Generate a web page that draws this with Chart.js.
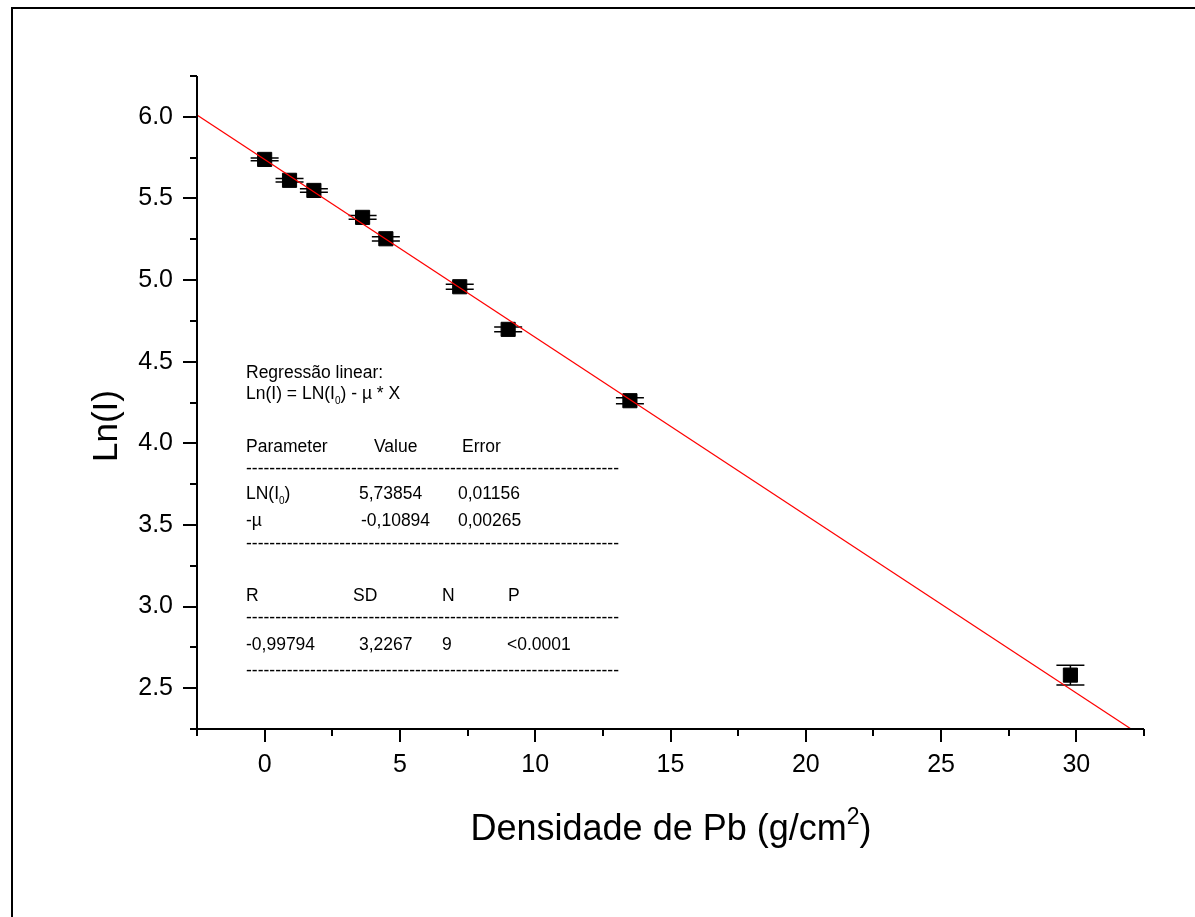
<!DOCTYPE html>
<html><head><meta charset="utf-8">
<script src="https://cdn.jsdelivr.net/npm/chart.js@4/dist/chart.umd.min.js"></script>
<style>html,body{margin:0;padding:0;background:#fff;overflow:hidden}#wrap{width:1195px;height:917px;position:relative}canvas{display:block}</style>
</head><body><div id="wrap"><canvas id="c" width="1195" height="917"></canvas></div>
<script>
// ---- data ----
const densidade = [0, 0.92, 1.82, 3.62, 4.48, 7.21, 9.0, 13.5, 29.78];
const lnI       = [5.739, 5.611, 5.549, 5.384, 5.253, 4.959, 4.698, 4.261, 2.58];
const lnIErr    = [0.008, 0.011, 0.011, 0.011, 0.013, 0.015, 0.014, 0.018, 0.061];
const fitX = [-2.5, 32.5];
const fitY = [6.011, 2.198];
const xTickValues = [0, 5, 10, 15, 20, 25, 30];
const xTickLabels = ['0', '5', '10', '15', '20', '25', '30'];
const yTickValues = [2.5, 3.0, 3.5, 4.0, 4.5, 5.0, 5.5, 6.0];
const yTickLabels = ['2.5', '3.0', '3.5', '4.0', '4.5', '5.0', '5.5', '6.0'];
const xTitle = 'Densidade de Pb (g/cm';
const xTitleSup = '2';
const yTitle = 'Ln(I)';
const dashes = '-'.repeat(64);
// annotation rows: [parts, x, baselineY]
const noteRows = [
  [['Regressão linear:'], 246, 378],
  [['Ln(I) = LN(I', {sub:'0'}, ') - \u00b5 * X'], 246, 399],
  [['Parameter'], 246, 452], [['Value'], 374, 452], [['Error'], 462, 452],
  [[dashes], 246, 474],
  [['LN(I', {sub:'0'}, ')'], 246, 499], [['5,73854'], 359, 499], [['0,01156'], 458, 499],
  [['-\u00b5'], 246, 526], [['-0,10894'], 361, 526], [['0,00265'], 458, 526],
  [[dashes], 246, 549],
  [['R'], 246, 601], [['SD'], 353, 601], [['N'], 442, 601], [['P'], 508, 601],
  [[dashes], 246, 623],
  [['-0,99794'], 246, 650], [['3,2267'], 359, 650], [['9'], 442, 650], [['<0.0001'], 507, 650],
  [[dashes], 246, 676]
];

const FONT = '"Liberation Sans", Arial, Helvetica, sans-serif';

function near(v, arr){ return arr.findIndex(a => Math.abs(a - v) < 1e-6); }

const decor = {
  id: 'decor',
  beforeDatasetsDraw(chart) {
    const ctx = chart.ctx, xs = chart.scales.x, ys = chart.scales.y;
    ctx.save();
    ctx.strokeStyle = '#000'; ctx.lineWidth = 1.5;
    for (let i = 0; i < densidade.length; i++) {
      const px = xs.getPixelForValue(densidade[i]);
      const top = ys.getPixelForValue(lnI[i] + lnIErr[i]);
      const bot = ys.getPixelForValue(lnI[i] - lnIErr[i]);
      ctx.beginPath();
      ctx.moveTo(px, top); ctx.lineTo(px, bot);
      ctx.moveTo(px - 14, top); ctx.lineTo(px + 14, top);
      ctx.moveTo(px - 14, bot); ctx.lineTo(px + 14, bot);
      ctx.stroke();
    }
    ctx.restore();
  },
  afterDraw(chart) {
    const ctx = chart.ctx, xs = chart.scales.x, ys = chart.scales.y, a = chart.chartArea;
    ctx.save();
    ctx.strokeStyle = '#000'; ctx.lineWidth = 2;
    ctx.strokeRect(12, 8, 2000, 2000);
    ctx.beginPath();
    ctx.moveTo(a.left, a.top); ctx.lineTo(a.left, a.bottom); ctx.lineTo(a.right, a.bottom);
    ctx.stroke();
    ctx.beginPath();
    for (let v = -2.5; v <= 32.5 + 1e-9; v += 2.5) {
      const p = Math.round(xs.getPixelForValue(v));
      const major = near(v, xTickValues) >= 0;
      ctx.moveTo(p, a.bottom); ctx.lineTo(p, a.bottom + (major ? 13 : 7));
    }
    for (let v = 2.25; v <= 6.25 + 1e-9; v += 0.25) {
      const p = Math.round(ys.getPixelForValue(v));
      const major = near(v, yTickValues) >= 0;
      ctx.moveTo(a.left, p); ctx.lineTo(a.left - (major ? 14 : 7), p);
    }
    ctx.stroke();
    ctx.fillStyle = '#000';
    ctx.textBaseline = 'alphabetic';
    ctx.save();
    ctx.font = '35px ' + FONT;
    ctx.translate(117, 426); ctx.rotate(-Math.PI / 2);
    ctx.textAlign = 'center';
    ctx.fillText(yTitle, 0, 0);
    ctx.restore();
    ctx.textAlign = 'left';
    ctx.font = '36px ' + FONT;
    const w1 = ctx.measureText(xTitle).width;
    ctx.font = '23px ' + FONT;
    const w2 = ctx.measureText(xTitleSup).width;
    ctx.font = '36px ' + FONT;
    const w3 = ctx.measureText(')').width;
    let x0 = 671 - (w1 + w2 + w3) / 2;
    const by = 840;
    ctx.fillText(xTitle, x0, by);
    ctx.font = '23px ' + FONT;
    ctx.fillText(xTitleSup, x0 + w1, by - 16);
    ctx.font = '36px ' + FONT;
    ctx.fillText(')', x0 + w1 + w2, by);
    for (const [parts, x, y] of noteRows) {
      let cx = x;
      for (const part of parts) {
        if (typeof part === 'string') {
          ctx.font = '17.5px ' + FONT;
          ctx.fillText(part, cx, y);
          cx += ctx.measureText(part).width;
        } else {
          ctx.font = '10px ' + FONT;
          ctx.fillText(part.sub, cx, y + 5);
          cx += ctx.measureText(part.sub).width;
        }
      }
    }
    ctx.restore();
  }
};

new Chart(document.getElementById('c'), {
  type: 'scatter',
  data: {
    datasets: [
      {
        type: 'line',
        data: fitX.map((x, i) => ({x, y: fitY[i]})),
        borderColor: '#ff0000', borderWidth: 1.2, pointRadius: 0, fill: false, order: 0
      },
      {
        data: densidade.map((x, i) => ({x, y: lnI[i]})),
        pointStyle: 'rect', pointRadius: 10, borderWidth: 1,
        backgroundColor: '#000', borderColor: '#000', order: 1
      }
    ]
  },
  options: {
    responsive: false, animation: false, events: [], devicePixelRatio: 1,
    layout: { padding: { top: 76, right: 51, left: 0, bottom: 0 } },
    plugins: { legend: { display: false }, tooltip: { enabled: false } },
    scales: {
      x: {
        type: 'linear', min: -2.5, max: 32.5,
        grid: { display: false, drawTicks: false }, border: { display: false },
        ticks: {
          stepSize: 2.5, autoSkip: false, maxRotation: 0, padding: 21,
          color: '#000', font: { family: FONT, size: 25 },
          callback: v => { const k = near(v, xTickValues); return k >= 0 ? xTickLabels[k] : ''; }
        },
        afterFit: s => { s.height = 188; }
      },
      y: {
        type: 'linear', min: 2.25, max: 6.25,
        grid: { display: false, drawTicks: false }, border: { display: false },
        ticks: {
          stepSize: 0.25, autoSkip: false, padding: 24,
          color: '#000', font: { family: FONT, size: 25 },
          callback: v => { const k = near(v, yTickValues); return k >= 0 ? yTickLabels[k] : ''; }
        },
        afterFit: s => { s.width = 197; }
      }
    }
  },
  plugins: [decor]
});
</script>
</body></html>
